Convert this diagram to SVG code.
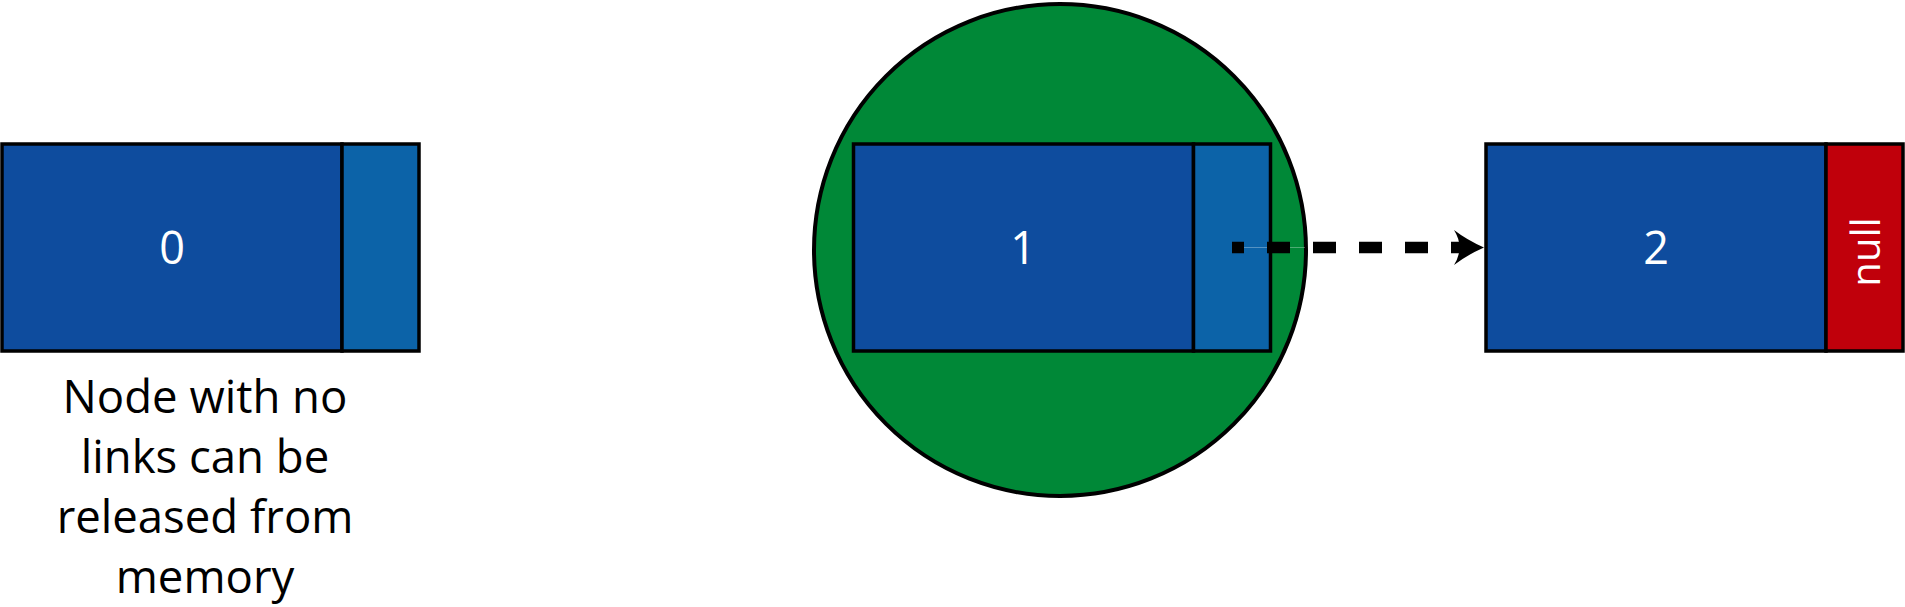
<svg xmlns="http://www.w3.org/2000/svg" width="1905" height="607" viewBox="0 0 1905 607">
  <style>
    .box { stroke: #000; stroke-width: 3.5; }
    .data { fill: #0e4c9e; }
    .ptr { fill: #0c63a8; }
    .nullp { fill: #c0000b; }
    .num { font-family: "Open Sans", "Noto Sans", sans-serif; font-size: 45px; fill: #fff; text-anchor: middle; }
    .nulltxt { font-family: "Open Sans", "Noto Sans", sans-serif; font-size: 40px; fill: #fff; text-anchor: middle; }
    .label { font-family: "Open Sans", "Noto Sans", sans-serif; font-size: 45.5px; fill: #000; text-anchor: middle; }
  </style>
  <rect width="1905" height="607" fill="#fff"/>

  <g id="highlight">
    <circle cx="1060" cy="250" r="246" fill="#008837" stroke="#000" stroke-width="4"/>
  </g>

  <g id="node0">
    <rect class="box data" x="2" y="144" width="340" height="207"/>
    <rect class="box ptr" x="342" y="144" width="77" height="207"/>
    <text class="num" x="172" y="264">0</text>
  </g>

  <g id="node1">
    <rect class="box data" x="853.5" y="144" width="340" height="207"/>
    <rect class="box ptr" x="1193.5" y="144" width="77" height="207"/>
    <text class="num" x="1023" y="264">1</text>
  </g>

  <g id="node2">
    <rect class="box data" x="1486" y="144" width="340" height="207"/>
    <rect class="box nullp" x="1826" y="144" width="77" height="207"/>
    <text class="num" x="1656" y="264">2</text>
    <text class="nulltxt" transform="translate(1880 252) rotate(-90)">null</text>
  </g>

  <g id="connectors">
    <line x1="1232" y1="247.5" x2="1305" y2="247.5" stroke="#fff" stroke-opacity="0.3" stroke-width="1"/>
    <line x1="1232" y1="247.5" x2="1460" y2="247.5" stroke="#000" stroke-width="11.5" stroke-dasharray="23 23" stroke-dashoffset="11"/>
    <path d="M1484,247.5 Q1467,240 1454,230 Q1465,247.5 1454,265 Q1467,255 1484,247.5 Z" fill="#000"/>
  </g>

  <g id="caption">
    <text class="label" x="205" y="413">Node with no</text>
    <text class="label" x="205" y="473">links can be</text>
    <text class="label" x="205" y="533">released from</text>
    <text class="label" x="205" y="593">memory</text>
  </g>
</svg>
